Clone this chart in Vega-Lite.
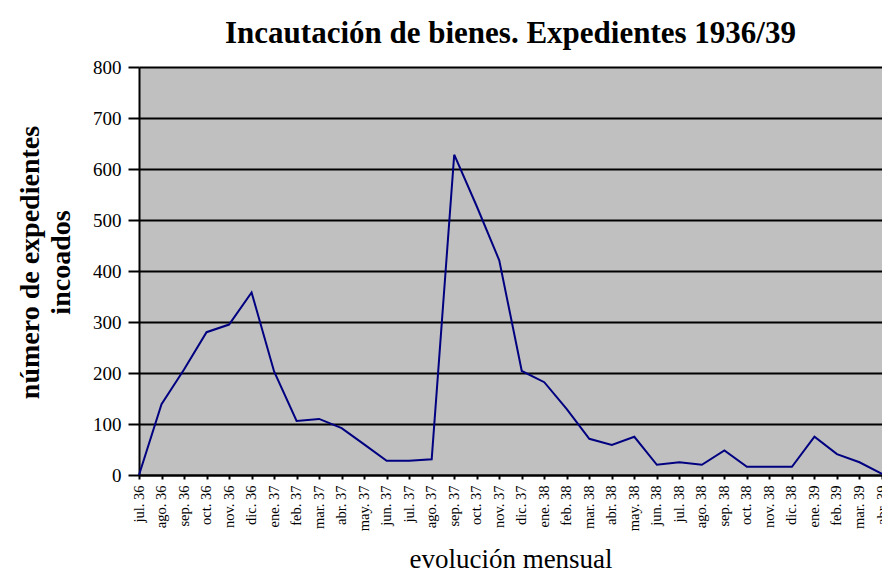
{
  "$schema": "https://vega.github.io/schema/vega-lite/v6.json",
  "autosize": "none",
  "width": 743,
  "height": 408,
  "padding": {"left": 139, "top": 67, "right": 0, "bottom": 94},
  "background": "white",
  "title": {
    "text": "Incautación de bienes. Expedientes 1936/39",
    "font": "Liberation Serif",
    "fontSize": 31,
    "fontWeight": "bold",
    "color": "black",
    "anchor": "middle",
    "baseline": "alphabetic",
    "offset": 24,
    "dy": 40
  },
  "config": {
    "view": {"fill": "#C0C0C0", "stroke": null},
    "axis": {
      "labelFont": "Liberation Serif",
      "titleFont": "Liberation Serif",
      "labelColor": "black",
      "titleColor": "black",
      "domainColor": "black",
      "tickColor": "black"
    }
  },
  "data": {
    "values": [
      {"mes": "jul. 36", "n": 0},
      {"mes": "ago. 36", "n": 139},
      {"mes": "sep. 36", "n": 207},
      {"mes": "oct. 36", "n": 280},
      {"mes": "nov. 36", "n": 295},
      {"mes": "dic. 36", "n": 358},
      {"mes": "ene. 37", "n": 203},
      {"mes": "feb. 37", "n": 106},
      {"mes": "mar. 37", "n": 110},
      {"mes": "abr. 37", "n": 92},
      {"mes": "may. 37", "n": 60},
      {"mes": "jun. 37", "n": 28},
      {"mes": "jul. 37", "n": 28},
      {"mes": "ago. 37", "n": 31},
      {"mes": "sep. 37", "n": 628},
      {"mes": "oct. 37", "n": 527},
      {"mes": "nov. 37", "n": 421},
      {"mes": "dic. 37", "n": 204},
      {"mes": "ene. 38", "n": 182},
      {"mes": "feb. 38", "n": 129},
      {"mes": "mar. 38", "n": 71},
      {"mes": "abr. 38", "n": 59},
      {"mes": "may. 38", "n": 75},
      {"mes": "jun. 38", "n": 20},
      {"mes": "jul. 38", "n": 25},
      {"mes": "ago. 38", "n": 20},
      {"mes": "sep. 38", "n": 48},
      {"mes": "oct. 38", "n": 16},
      {"mes": "nov. 38", "n": 16},
      {"mes": "dic. 38", "n": 16},
      {"mes": "ene. 39", "n": 75},
      {"mes": "feb. 39", "n": 41},
      {"mes": "mar. 39", "n": 25},
      {"mes": "abr. 39", "n": 2}
    ]
  },
  "mark": {"type": "line", "color": "#000080", "strokeWidth": 2, "clip": false},
  "encoding": {
    "x": {
      "field": "mes",
      "type": "ordinal",
      "sort": null,
      "scale": {"type": "point", "padding": 0},
      "axis": {
        "title": "evolución mensual",
        "titleFontSize": 27,
        "titleFontWeight": "normal",
        "titleBaseline": "alphabetic",
        "titleY": 92,
        "labelAngle": -90,
        "labelAlign": "right",
        "labelBaseline": "middle",
        "labelFontSize": 14.5,
        "labelPadding": 6,
        "tickSize": 4,
        "tickWidth": 2,
        "domainWidth": 2,
        "grid": false,
        "labelOverlap": false
      }
    },
    "y": {
      "field": "n",
      "type": "quantitative",
      "scale": {"domain": [0, 800], "nice": false},
      "axis": {
        "values": [0, 100, 200, 300, 400, 500, 600, 700, 800],
        "title": ["número de expedientes", "incoados"],
        "titleFontSize": 28,
        "titleFontWeight": "bold",
        "titleAngle": -90,
        "titleAlign": "center",
        "titleBaseline": "alphabetic",
        "titleLineHeight": 31,
        "titleX": -101,
        "titleY": 195,
        "labelFontSize": 19,
        "labelPadding": 7,
        "tickSize": 11,
        "tickWidth": 2,
        "domainWidth": 2,
        "grid": true,
        "gridColor": "black",
        "gridWidth": 2,
        "gridOpacity": 1
      }
    }
  }
}
